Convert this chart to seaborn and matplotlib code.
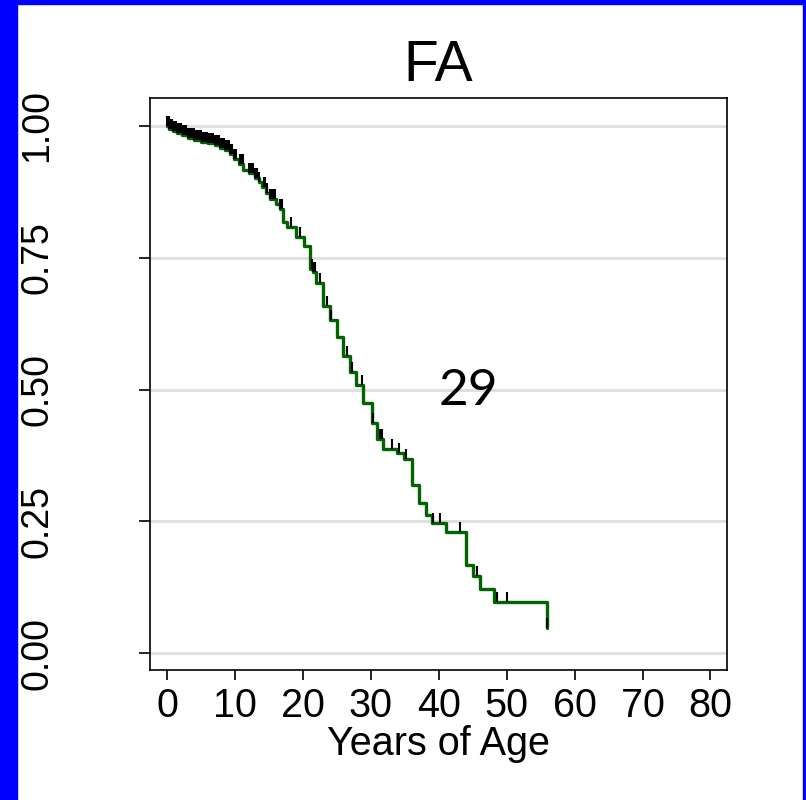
import matplotlib
matplotlib.use("Agg")
import matplotlib.pyplot as plt
from matplotlib.patches import Rectangle
import numpy as np
import pandas as pd
import seaborn as sns

sns.set_style("ticks")
plt.rcParams["font.family"] = ["Liberation Sans", "DejaVu Sans"]
plt.rcParams["text.color"] = "black"
plt.rcParams["axes.labelcolor"] = "black"
plt.rcParams["xtick.color"] = "black"
plt.rcParams["ytick.color"] = "black"

# Kaplan-Meier steps
surv_time = [0, 0.3, 0.8, 1.5, 2.2, 3.0, 4.0, 5.0, 6.0, 7.0, 7.8, 8.5, 9.2, 9.8,
             10.5, 11.2, 12.0, 12.9, 13.5, 14.0, 14.6, 15.2, 16.0, 16.6, 17.1,
             17.7, 19.0, 20.1, 21.05, 21.5, 21.9, 22.9, 24.0, 25.0, 25.95, 26.9,
             27.8, 28.9, 30.1, 30.95, 31.85, 33.9, 34.9, 36.0, 37.1, 38.1, 39.0,
             41.1, 44.0, 45.0, 46.0, 48.1, 56.0]
surv_prob = [1.0, 0.995, 0.990, 0.986, 0.982, 0.978, 0.974, 0.970, 0.967, 0.963,
             0.959, 0.954, 0.947, 0.938, 0.928, 0.917, 0.910, 0.902, 0.893, 0.884,
             0.873, 0.862, 0.852, 0.842, 0.818, 0.809, 0.790, 0.773, 0.728, 0.722,
             0.702, 0.658, 0.632, 0.599, 0.564, 0.534, 0.508, 0.474, 0.436, 0.407,
             0.388, 0.379, 0.369, 0.319, 0.285, 0.262, 0.246, 0.229, 0.167, 0.146,
             0.121, 0.097, 0.048]

# censored observations (tick marks)
censor_time = [0.0, 0.1, 0.2, 0.3, 0.4, 0.5, 0.6, 0.7, 0.8, 0.9, 1.0, 1.1, 1.2,
               1.3, 1.5, 1.6, 1.7, 1.8, 2.0, 2.1, 2.3, 2.4, 2.5, 2.6, 2.8, 3.0,
               3.1, 3.3, 3.4, 3.5, 3.7, 3.9, 4.0, 4.2, 4.3, 4.4, 4.6, 4.7, 4.9,
               5.1, 5.2, 5.3, 5.4, 5.6, 5.8, 6.0, 6.2, 6.3, 6.5, 6.6, 6.8, 7.0,
               7.1, 7.3, 7.4, 7.6, 7.8, 8.0, 8.2, 8.3, 8.5, 8.7, 8.9, 9.1, 9.2,
               9.4, 9.6, 9.9, 10.2, 10.7, 10.9, 11.1, 12.0, 12.2, 12.4, 12.6,
               12.9, 13.2, 13.5, 14.2, 14.4, 14.7, 15.2, 15.4, 15.6, 15.9, 16.6,
               16.9, 18.3, 19.6, 21.3, 21.5, 21.7, 22.5, 23.5, 24.1, 26.5, 27.2,
               28.7, 30.3, 31.4, 31.6, 33.1, 34.1, 35.2, 39.2, 40.2, 43.1, 45.6,
               48.6, 50.1, 56.0]

title = "FA"
median_label = "29"
x_ticks = [0, 10, 20, 30, 40, 50, 60, 70, 80]
y_ticks = [0.0, 0.25, 0.5, 0.75, 1.0]
y_ticklabels = ["0.00", "0.25", "0.50", "0.75", "1.00"]

df = pd.DataFrame({"time": surv_time, "surv": surv_prob})

fig = plt.figure(figsize=(8.06, 8.0), dpi=100)
ax = fig.add_axes([0.186, 0.1625, 0.7165, 0.715])

for y in y_ticks:
    ax.axhline(y, color="#e0e0e0", lw=2.2, zorder=0)

sns.lineplot(data=df, x="time", y="surv", ax=ax, drawstyle="steps-post",
             color="#006400", lw=2.4, estimator=None, sort=False, zorder=2)

# censor marks sit on the curve level at that time
idx = np.searchsorted(surv_time, censor_time, side="right") - 1
c_level = np.array(surv_prob)[idx]
ax.vlines(censor_time, c_level, c_level + 0.019, color="black", lw=1.5, zorder=3)

ax.text(44.3, 0.497, median_label, fontsize=37, ha="center", va="center",
        color="black", family=["Lato", "DejaVu Sans"])

ax.set_xlim(-2.55, 82.5)
ax.set_ylim(-0.032, 1.053)
ax.set_xticks(x_ticks)
ax.set_yticks(y_ticks)
ax.set_yticklabels(y_ticklabels, rotation=90, va="center")
ax.tick_params(axis="x", labelsize=28.5, length=7, width=1.2, pad=5)
ax.tick_params(axis="y", labelsize=27, length=8, width=1.2, pad=60)
ax.set_xlabel("Years of Age", fontsize=28.5, labelpad=0)
ax.set_ylabel("")
ax.set_title(title, fontsize=41, pad=12)
for s in ax.spines.values():
    s.set_visible(True)
    s.set_color("black")
    s.set_linewidth(1.2)

# blue slide frame
fig.patches.append(Rectangle((0, 0), 17 / 806, 1, transform=fig.transFigure,
                             color="#0000ff", zorder=10))
fig.patches.append(Rectangle((0, 1 - 4 / 800), 1, 4 / 800, transform=fig.transFigure,
                             color="#0000ff", zorder=10))
fig.patches.append(Rectangle((1 - 3 / 806, 0), 3 / 806, 1, transform=fig.transFigure,
                             color="#0000ff", zorder=10))

fig.savefig("out.png", dpi=100)
